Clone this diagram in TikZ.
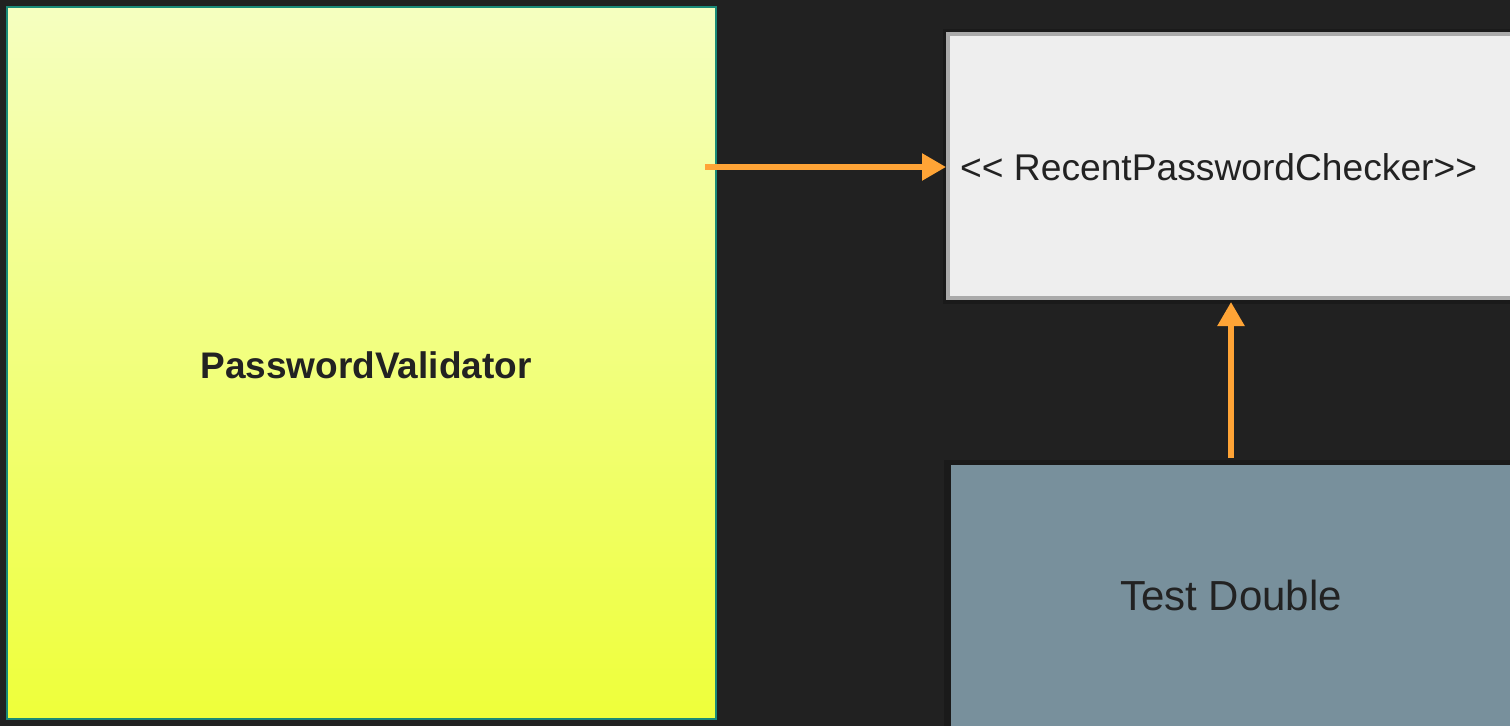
\documentclass[tikz,border=0pt]{standalone}
\usepackage{fontspec}
\setmainfont{Liberation Sans}[Ligatures=NoCommon]
\usetikzlibrary{arrows.meta}
\definecolor{bg}{HTML}{212121}
\definecolor{yelTop}{HTML}{F5FFC0}
\definecolor{yelBot}{HTML}{EEFF3A}
\definecolor{teal}{HTML}{1A8A78}
\definecolor{lightgrey}{HTML}{EEEEEE}
\definecolor{midgrey}{HTML}{AAAAAA}
\definecolor{bluegrey}{HTML}{78909C}
\definecolor{orange}{HTML}{FFA436}
\definecolor{txt}{HTML}{222222}
\definecolor{shadow}{HTML}{1A1A1A}
\tikzset{
  conn/.style={draw=orange, line width=5.5pt, -{Triangle[length=24pt,width=26pt]}},
}
\begin{document}
\begin{tikzpicture}[x=1pt,y=-1pt]
\useasboundingbox (0,0) rectangle (1510,726);
\fill[bg] (0,0) rectangle (1510,726);
% yellow box
\shade[top color=yelTop, bottom color=yelBot] (7,7) rectangle (716,719);
\draw[teal, line width=2pt] (7,7) rectangle (716,719);
\node[font=\fontsize{37}{44}\selectfont\bfseries, text=txt] (pv) at (366,365) {PasswordValidator};
\coordinate (pvR) at (705,167);
% grey box
\fill[shadow] (943,29) rectangle (1512,304);
\fill[lightgrey] (946,32) rectangle (1515,300);
\draw[midgrey, line width=4pt] (948,34) rectangle (1520,298);
\node[anchor=west, font=\fontsize{37.2}{44}\selectfont, text=txt, inner sep=0pt] (rpc) at (960,167) {{<}{<} RecentPasswordChecker{>}{>}};
\coordinate (rpcL) at (946,167);
\coordinate (rpcB) at (1231,302);
% test double
\fill[shadow] (944,460) rectangle (1512,726);
\fill[bluegrey] (951,465) rectangle (1512,726);
\node[font=\fontsize{42}{50}\selectfont, text=txt] (td) at (1231,595) {Test Double};
\coordinate (tdT) at (1231,458);
% connectors
\draw[conn] (pvR) -- (rpcL);
\draw[conn] (tdT) -- (rpcB);
\end{tikzpicture}
\end{document}
